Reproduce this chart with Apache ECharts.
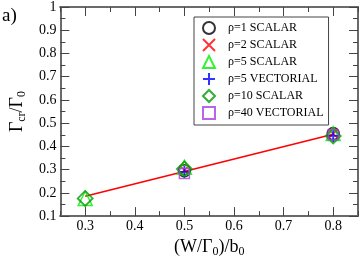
<!DOCTYPE html>
<html><head><meta charset="utf-8">
<script src="https://cdn.jsdelivr.net/npm/echarts@6/dist/echarts.min.js"></script>
<style>html,body{margin:0;padding:0;background:#fff}#c{width:360px;height:263px}</style>
</head><body><div id="c"></div>
<script>
const xTicks = [0.3, 0.4, 0.5, 0.6, 0.7, 0.8];
const xMinorTicks = [0.25, 0.35, 0.45, 0.55, 0.65, 0.75, 0.85];
const seriesNames = ['ρ=1 SCALAR', 'ρ=2 SCALAR', 'ρ=5 SCALAR', 'ρ=5 VECTORIAL', 'ρ=10 SCALAR', 'ρ=40 VECTORIAL'];
const xFull = [0.3, 0.5, 0.8];
const xPart = [0.5, 0.8];
const rho1Scalar = [0.295, 0.455];
const rho2Scalar = [0.298, 0.455];
const rho5Scalar = [0.176, 0.310, 0.455];
const rho5Vectorial = [0.290, 0.445];
const rho10Scalar = [0.176, 0.303, 0.445];
const rho40Vectorial = [0.283, 0.450];
const fitX = [0.3, 0.8];
const fitY = [0.185, 0.452];

const serif = '"Liberation Serif","DejaVu Serif",serif';
const pair = (xs, ys) => xs.map((x, i) => [x, ys[i]]);
const axCol = '#6a6a6a';

function mk(name, xs, ys, symbol, size, color, bw) {
  return {
    name, type: 'scatter', data: pair(xs, ys), symbol, symbolSize: size,
    itemStyle: { color: 'rgba(0,0,0,0)', borderColor: color, borderWidth: bw || 1.5 },
    emphasis: { disabled: true }, z: 3
  };
}
const XPATH = 'path://M0,0L10,10M0,10L10,0';
const PPATH = 'path://M5,0L5,10M0,5L10,5';

const baseX = {
  type: 'value', min: 0.25, max: 0.85, gridIndex: 0,
  axisLine: { show: true, lineStyle: { color: axCol, width: 2 } },
  splitLine: { show: false }
};
const nameRich = {
  m: { fontFamily: serif, fontSize: 18, color: '#000', lineHeight: 20, verticalAlign: 'top' },
  s: { fontFamily: serif, fontSize: 12, color: '#000', lineHeight: 12, verticalAlign: 'bottom' }
};
const chart = echarts.init(document.getElementById('c'));
chart.setOption({
  animation: false,
  grid: { left: 47, right: 2, top: 5, bottom: 40, containLabel: false },
  xAxis: [
    Object.assign({}, baseX, { position: 'bottom',
      axisTick: { show: true, inside: true, length: 9, customValues: xTicks, lineStyle: { color: '#444' } },
      axisLabel: { customValues: xTicks, fontFamily: serif, fontSize: 14, color: '#000', margin: 3, formatter: v => v.toFixed(1) },
      name: '{m|(W/Γ}{s|0}{m|)/b}{s|0}', nameLocation: 'middle', nameGap: 15,
      nameTextStyle: { rich: nameRich }
    }),
    Object.assign({}, baseX, { position: 'bottom',
      axisTick: { show: true, inside: true, length: 5, customValues: xMinorTicks, lineStyle: { color: '#444' } },
      axisLabel: { show: false } }),
    Object.assign({}, baseX, { position: 'top',
      axisTick: { show: true, inside: true, length: 9, customValues: xTicks, lineStyle: { color: '#444' } },
      axisLabel: { show: false } }),
    Object.assign({}, baseX, { position: 'top',
      axisTick: { show: true, inside: true, length: 5, customValues: xMinorTicks, lineStyle: { color: '#444' } },
      axisLabel: { show: false } })
  ],
  yAxis: [
    { type: 'value', min: 0.1, max: 1, interval: 0.1, position: 'left',
      axisLine: { show: true, lineStyle: { color: axCol, width: 2 } },
      axisTick: { show: true, inside: true, length: 9, lineStyle: { color: '#444' } },
      minorTick: { show: true, splitNumber: 2, length: 5, lineStyle: { color: '#444' } },
      splitLine: { show: false },
      axisLabel: { fontFamily: serif, fontSize: 14, color: '#000', margin: 4,
        formatter: v => (Math.abs(v - 1) < 1e-9 ? '1' : v.toFixed(1)) },
      name: '{m|Γ}{s|cr}{m|/Γ}{s|0}', nameLocation: 'middle', nameGap: 27,
      nameTextStyle: { rich: nameRich }
    },
    { type: 'value', min: 0.1, max: 1, interval: 0.1, position: 'right',
      axisLine: { show: true, lineStyle: { color: axCol, width: 2 } },
      axisTick: { show: true, inside: true, length: 9, lineStyle: { color: '#444' } },
      minorTick: { show: true, splitNumber: 2, length: 5, lineStyle: { color: '#444' } },
      splitLine: { show: false }, axisLabel: { show: false } }
  ],
  legend: {
    data: seriesNames, orient: 'vertical', left: 194, top: 17,
    padding: [4, 5, 5, 8], itemGap: 3, itemWidth: 12, itemHeight: 12,
    backgroundColor: '#fff', borderColor: '#444', borderWidth: 1, borderRadius: 0,
    textStyle: { fontFamily: serif, fontSize: 12, color: '#000', lineHeight: 12, padding: [0, 0, 0, 8] },
    selectedMode: false
  },
  graphic: [{ type: 'text', left: 2, top: 7, style: { text: 'a)', font: '19px ' + serif, fill: '#000' } }],
  series: [
    { name: 'fit', type: 'line', data: pair(fitX, fitY), symbol: 'none',
      lineStyle: { color: '#ff0000', width: 1.5 }, z: 2, silent: true },
    mk(seriesNames[0], xPart, rho1Scalar, 'circle', 12, '#000000', 1.5),
    mk(seriesNames[1], xPart, rho2Scalar, XPATH, 9, '#ff0000', 1.5),
    mk(seriesNames[2], xFull, rho5Scalar, 'triangle', 14, '#00ee00', 1.5),
    mk(seriesNames[3], xPart, rho5Vectorial, PPATH, 12, '#0000ff', 1.8),
    mk(seriesNames[4], xFull, rho10Scalar, 'diamond', 15, '#009a00', 1.8),
    mk(seriesNames[5], xPart, rho40Vectorial, 'rect', 10, '#a93ee0', 1.5)
  ]
});
</script></body></html>
